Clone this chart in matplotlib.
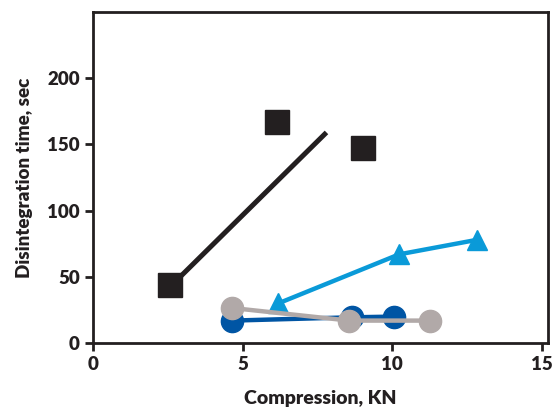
import matplotlib
matplotlib.use("Agg")
import matplotlib.pyplot as plt

# data
sq_x = [2.58, 6.15, 9.03]
sq_y = [44, 167, 147]
fit_x = [2.55, 7.8]
fit_y = [42, 159]
tri_x = [6.19, 10.23, 12.84]
tri_y = [30, 67, 78]
dk_x = [4.65, 8.66, 10.07]
dk_y = [17, 19.5, 20]
gr_x = [4.65, 8.56, 11.27]
gr_y = [26.5, 17, 17]

xticks = [0, 5, 10, 15]
yticks = [0, 50, 100, 150, 200]

plt.rcParams['font.family'] = ['Lato', 'DejaVu Sans']

fig = plt.figure(figsize=(5.54, 4.08), dpi=100)
ax = fig.add_axes([0.168, 0.159, 0.821, 0.812])

ax.plot(fit_x, fit_y, color="#231f20", lw=3.6, solid_capstyle="butt", zorder=2)
ax.plot(sq_x, sq_y, ls="none", marker="s", ms=17, color="#231f20", zorder=3)
ax.plot(tri_x, tri_y, color="#0a9ad8", lw=3.2, marker="^", ms=15, zorder=3)
ax.plot(dk_x, dk_y, color="#0055a4", lw=3.2, marker="o", ms=16, zorder=4)
ax.plot(gr_x, gr_y, color="#b1a9a8", lw=3.2, marker="o", ms=16, zorder=5)

ax.set_xlim(0, 15.2)
ax.set_ylim(0, 250)
ax.set_xticks(xticks)
ax.set_yticks(yticks)
ax.tick_params(direction="out", length=6, width=2, labelsize=13.5,
               color="#231f20", labelcolor="#231f20")
for lab in ax.get_xticklabels() + ax.get_yticklabels():
    lab.set_fontweight("heavy")
for s in ax.spines.values():
    s.set_linewidth(2)
    s.set_color("#231f20")

ax.set_xlabel("Compression, KN", fontsize=14, fontweight="heavy",
              color="#231f20", labelpad=12)
ax.set_ylabel("Disintegration time, sec", fontsize=13.5, fontweight="heavy",
              color="#231f20", labelpad=10)

fig.savefig("out.png", dpi=100)
